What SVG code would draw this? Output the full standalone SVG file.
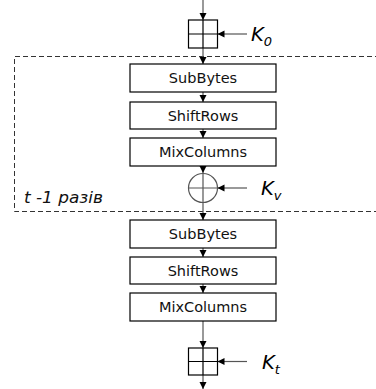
<svg xmlns="http://www.w3.org/2000/svg" width="376" height="389" viewBox="0 0 376 389">
<defs>
<marker id="ah" markerWidth="8" markerHeight="8" refX="7" refY="4" orient="auto" markerUnits="userSpaceOnUse">
<path d="M0,0.5 L7,4 L0,7.5 Z" fill="#000"/>
</marker>
<style>
.box{fill:#fff;stroke:#000;stroke-width:1.2}
.lbl{font-family:"DejaVu Sans",Verdana,sans-serif;font-size:14.5px;fill:#111;text-anchor:middle}
.con{stroke:#555;stroke-width:1.2;fill:none;marker-end:url(#ah)}
.key{font-family:"DejaVu Sans",Verdana,sans-serif;font-style:italic;font-size:19.5px;fill:#000}
.sub{font-size:13px}
.xor{fill:#fff;stroke:#000;stroke-width:1.2}
</style>
</defs>
<rect width="376" height="389" fill="#fff"/>
<g id="loop">
<path d="M380,56.5 H14.5 V211.5 H380" fill="none" stroke="#333" stroke-width="1" stroke-dasharray="5,3"/>
<text x="24" y="203" font-family="DejaVu Sans,Verdana,sans-serif" font-style="italic" font-size="16" fill="#111" textLength="79" lengthAdjust="spacingAndGlyphs">t -1 разів</text>
</g>
<g id="connectors">
<path class="con" d="M203,0 V20"/>
<path class="con" d="M203,48 V64"/>
<path class="con" d="M203,92 V102"/>
<path class="con" d="M203,129 V138"/>
<path class="con" d="M203,166 V173"/>
<path class="con" d="M203,203 V220"/>
<path class="con" d="M203,248 V257"/>
<path class="con" d="M203,284 V293"/>
<path class="con" d="M203,321 V348"/>
<path class="con" d="M203,375 V389"/>
<path class="con" d="M247,34 H217.5"/>
<path class="con" d="M247,188 H217.5"/>
<path class="con" d="M247,361.5 H217.5"/>
</g>
<g id="add0">
<rect class="xor" x="188.5" y="20" width="29" height="28"/>
<path d="M188.5,34 H217.5 M203,20 V48" stroke="#000" stroke-width="1.2"/>
<text class="key" x="251" y="41">K<tspan class="sub" dy="5">0</tspan></text>
</g>
<g id="subbytes1">
<rect class="box" x="130" y="64" width="146" height="28"/>
<text class="lbl" x="203" y="83">SubBytes</text>
</g>
<g id="shiftrows1">
<rect class="box" x="130" y="102" width="146" height="27"/>
<text class="lbl" x="203" y="120.5">ShiftRows</text>
</g>
<g id="mixcolumns1">
<rect class="box" x="130" y="138" width="146" height="28"/>
<text class="lbl" x="203" y="157">MixColumns</text>
</g>
<g id="xorv">
<circle cx="203" cy="188" r="14.5" fill="#fff" stroke="#555" stroke-width="1.2"/>
<path d="M188.5,188 H217.5 M203,173.5 V202.5" stroke="#555" stroke-width="1.2"/>
<text class="key" x="261" y="195">K<tspan class="sub" dy="5">v</tspan></text>
</g>
<g id="subbytes2">
<rect class="box" x="130" y="220" width="146" height="28"/>
<text class="lbl" x="203" y="239">SubBytes</text>
</g>
<g id="shiftrows2">
<rect class="box" x="130" y="257" width="146" height="27"/>
<text class="lbl" x="203" y="275.5">ShiftRows</text>
</g>
<g id="mixcolumns2">
<rect class="box" x="130" y="293" width="146" height="28"/>
<text class="lbl" x="203" y="312">MixColumns</text>
</g>
<g id="addt">
<rect class="xor" x="188.5" y="348" width="29" height="27"/>
<path d="M188.5,361.5 H217.5 M203,348 V375" stroke="#000" stroke-width="1.2"/>
<text class="key" x="262" y="369">K<tspan class="sub" dy="5">t</tspan></text>
</g>
</svg>
